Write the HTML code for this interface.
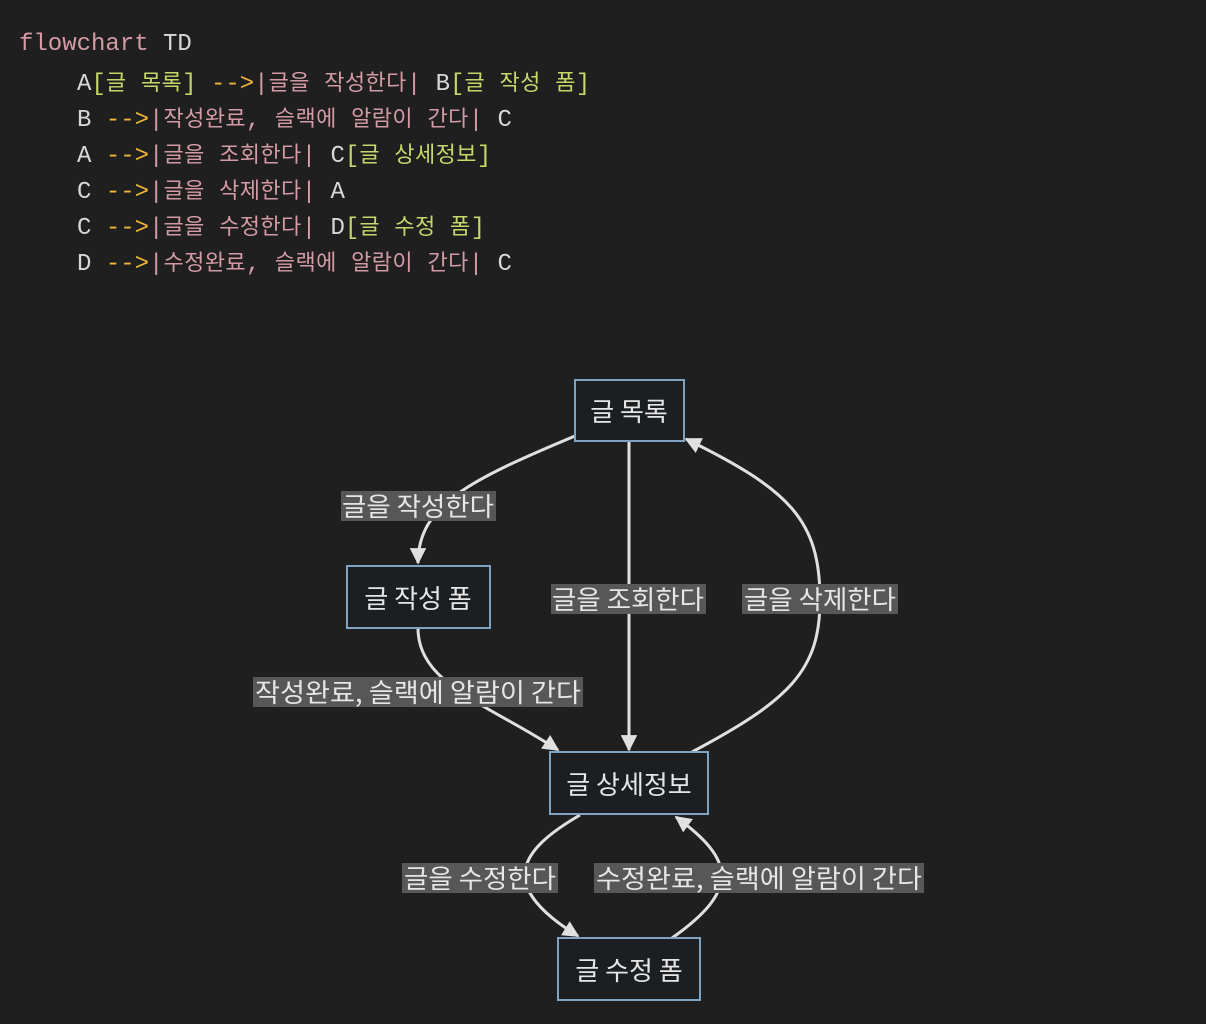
<!DOCTYPE html>
<html><head><meta charset="utf-8"><style>
html,body{margin:0;padding:0;background:#1f1f1f;width:1206px;height:1024px;overflow:hidden}
.code{position:absolute;left:0;top:0;font-family:"Liberation Mono","Noto Sans CJK KR",monospace;font-size:24px;color:#d8d8d8;white-space:pre}
.ln{position:absolute;height:36px;line-height:36px}
.k{font-family:"Noto Sans CJK KR",sans-serif;letter-spacing:0.4px;font-size:22px}
.p{color:#d49ba6}.g{color:#c4d96a}.o{color:#f0b43a}
</style></head><body>
<div class="code">
<div class="ln p" style="left:19px;top:27px">flowchart <span style="color:#d8d8d8">TD</span></div>
<div class="ln" style="left:77px;top:63px">A<span class="g">[<span class="k">글</span> <span class="k">목록</span>]</span> <span class="o">--></span><span class="p">|<span class="k">글을</span> <span class="k">작성한다</span>|</span> B<span class="g">[<span class="k">글</span> <span class="k">작성</span> <span class="k">폼</span>]</span></div>
<div class="ln" style="left:77px;top:99px">B <span class="o">--></span><span class="p">|<span class="k">작성완료</span>, <span class="k">슬랙에</span> <span class="k">알람이</span> <span class="k">간다</span>|</span> C</div>
<div class="ln" style="left:77px;top:135px">A <span class="o">--></span><span class="p">|<span class="k">글을</span> <span class="k">조회한다</span>|</span> C<span class="g">[<span class="k">글</span> <span class="k">상세정보</span>]</span></div>
<div class="ln" style="left:77px;top:171px">C <span class="o">--></span><span class="p">|<span class="k">글을</span> <span class="k">삭제한다</span>|</span> A</div>
<div class="ln" style="left:77px;top:207px">C <span class="o">--></span><span class="p">|<span class="k">글을</span> <span class="k">수정한다</span>|</span> D<span class="g">[<span class="k">글</span> <span class="k">수정</span> <span class="k">폼</span>]</span></div>
<div class="ln" style="left:77px;top:243px">D <span class="o">--></span><span class="p">|<span class="k">수정완료</span>, <span class="k">슬랙에</span> <span class="k">알람이</span> <span class="k">간다</span>|</span> C</div>
</div>
<svg width="1206" height="1024" style="position:absolute;left:0;top:0" font-family="Noto Sans CJK KR, sans-serif">
<defs><marker id="a" viewBox="0 0 10 10" refX="9" refY="5" markerWidth="5.5" markerHeight="5.5" orient="auto-start-reverse"><path d="M0,0L10,5L0,10z" fill="#e0e0e0"/></marker></defs>
<g fill="none" stroke="#e0e0e0" stroke-width="3">
<path d="M575,436 C470,480 418,505 418,563" marker-end="url(#a)"/>
<path d="M629,441 L629,750" marker-end="url(#a)"/>
<path d="M692,752 C790,700 820,670 820,600 C820,520 790,490 686,439" marker-end="url(#a)"/>
<path d="M418,628 C418,685 490,705 558,750" marker-end="url(#a)"/>
<path d="M580,815 C520,850 495,885 578,936" marker-end="url(#a)"/>
<path d="M672,938 C740,890 735,860 676,817" marker-end="url(#a)"/>
</g>
<g fill="#1c1f22" stroke="#7fa3c3" stroke-width="2">
<rect x="575" y="380" width="109" height="61"/>
<rect x="347" y="566" width="143" height="62"/>
<rect x="550" y="752" width="158" height="62"/>
<rect x="558" y="938" width="142" height="62"/>
</g>
<g fill="#575757">
<rect x="341" y="491" width="155" height="30"/>
<rect x="551" y="584" width="155" height="30"/>
<rect x="742" y="584" width="156" height="30"/>
<rect x="253" y="677" width="330" height="30"/>
<rect x="402" y="863" width="156" height="30"/>
<rect x="594" y="863" width="330" height="30"/>
</g>
<g fill="#e6e6e6" font-size="26" text-anchor="middle">
<text x="629" y="421">글 목록</text>
<text x="418" y="608">글 작성 폼</text>
<text x="629" y="794">글 상세정보</text>
<text x="629" y="980">글 수정 폼</text>
<text x="418" y="516" textLength="152" lengthAdjust="spacingAndGlyphs">글을 작성한다</text>
<text x="628" y="609" textLength="152" lengthAdjust="spacingAndGlyphs">글을 조회한다</text>
<text x="820" y="609" textLength="152" lengthAdjust="spacingAndGlyphs">글을 삭제한다</text>
<text x="418" y="702" textLength="326" lengthAdjust="spacingAndGlyphs">작성완료, 슬랙에 알람이 간다</text>
<text x="480" y="888" textLength="152" lengthAdjust="spacingAndGlyphs">글을 수정한다</text>
<text x="759" y="888" textLength="326" lengthAdjust="spacingAndGlyphs">수정완료, 슬랙에 알람이 간다</text>
</g>
</svg>
</body></html>
